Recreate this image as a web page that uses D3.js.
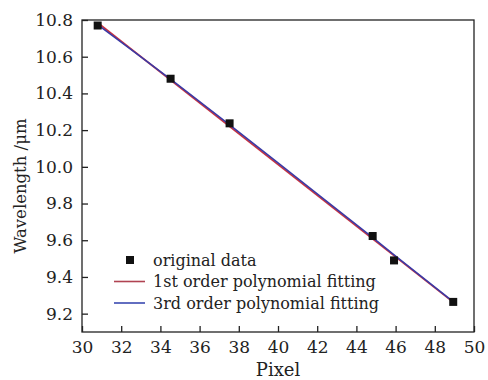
<!DOCTYPE html>
<html>
<head>
<meta charset="utf-8">
<script src="https://cdn.jsdelivr.net/npm/d3@7"></script>
<style>
  body { margin: 0; background: #fff; }
  text { font-family: "DejaVu Serif", "Liberation Serif", serif; fill: #222; }
</style>
</head>
<body>
<svg id="chart" width="488" height="380"></svg>
<script>
// values
var pixels = [30.8, 34.52, 37.53, 44.83, 45.92, 48.94];
var wavelengths = [10.77, 10.48, 10.237, 9.623, 9.49, 9.264];
var fit1 = [[30.8, 10.785], [49.0, 9.257]];
var fit3 = [[30.8, 10.775], [34.5, 10.479], [37.5, 10.231], [41.0, 9.937], [44.8, 9.617], [46.0, 9.514], [49.0, 9.26]];
var xTicks = [30, 32, 34, 36, 38, 40, 42, 44, 46, 48, 50];
var yTicks = [9.2, 9.4, 9.6, 9.8, 10.0, 10.2, 10.4, 10.6, 10.8];
var legendItems = ['original data', '1st order polynomial fitting', '3rd order polynomial fitting'];

var svg = d3.select('#chart');
var plotL = 82, plotR = 474, plotT = 20, plotB = 332;

var x = d3.scaleLinear().domain([30, 50]).range([plotL, plotR]);
var y = d3.scaleLinear().domain([9.1, 10.8]).range([plotB, plotT]);

// frame
svg.append('rect').attr('x', plotL).attr('y', plotT).attr('width', plotR - plotL).attr('height', plotB - plotT)
  .attr('fill', 'none').attr('stroke', '#222').attr('stroke-width', 1.3);

// axes, ticks pointing inward
var xAxis = svg.append('g').attr('transform', 'translate(0,' + plotB + ')')
  .call(d3.axisBottom(x).tickValues(xTicks).tickSize(-6).tickPadding(9).tickFormat(d3.format('d')));
var yAxis = svg.append('g').attr('transform', 'translate(' + plotL + ',0)')
  .call(d3.axisLeft(y).tickValues(yTicks).tickSize(-6).tickPadding(9).tickFormat(d3.format('.1f')));
[xAxis, yAxis].forEach(function(g) {
  g.select('.domain').remove();
  g.selectAll('.tick line').attr('stroke', '#222').attr('stroke-width', 1.3);
  g.selectAll('.tick text').style('font-family', '"DejaVu Serif", serif').style('font-size', '17px').attr('fill', '#222');
});

// fitted curves
var line = d3.line().x(function(d) { return x(d[0]); }).y(function(d) { return y(d[1]); });
svg.append('path').datum(fit1).attr('d', line).attr('fill', 'none').attr('stroke', '#c8323f').attr('stroke-width', 1.6);
svg.append('path').datum(fit3).attr('d', d3.line().curve(d3.curveMonotoneX).x(function(d) { return x(d[0]); }).y(function(d) { return y(d[1]); }))
  .attr('fill', 'none').attr('stroke', '#3a3aa6').attr('stroke-width', 1.6);

// data points
svg.selectAll('rect.pt').data(pixels).enter().append('rect').attr('class', 'pt')
  .attr('x', function(d) { return x(d) - 4; })
  .attr('y', function(d, i) { return y(wavelengths[i]) - 4; })
  .attr('width', 8).attr('height', 8).attr('fill', '#111');

// legend
var lg = svg.append('g');
lg.append('rect').attr('x', 126).attr('y', 256).attr('width', 8).attr('height', 8).attr('fill', '#111');
lg.append('line').attr('x1', 114).attr('x2', 145).attr('y1', 281.5).attr('y2', 281.5).attr('stroke', '#b04352').attr('stroke-width', 1.6);
lg.append('line').attr('x1', 114).attr('x2', 145).attr('y1', 303).attr('y2', 303).attr('stroke', '#3a4ab0').attr('stroke-width', 1.6);
lg.selectAll('text').data(legendItems).enter().append('text')
  .attr('x', 153).attr('y', function(d, i) { return 265.5 + i * 21.5; })
  .style('font-size', '16px').text(function(d) { return d; });

// axis titles
svg.append('text').attr('x', 278).attr('y', 376).attr('text-anchor', 'middle').style('font-size', '18px').text('Pixel');
svg.append('text').attr('transform', 'translate(26,186) rotate(-90)')
  .attr('text-anchor', 'middle').style('font-size', '16.5px').text('Wavelength /μm');
</script>
</body>
</html>
